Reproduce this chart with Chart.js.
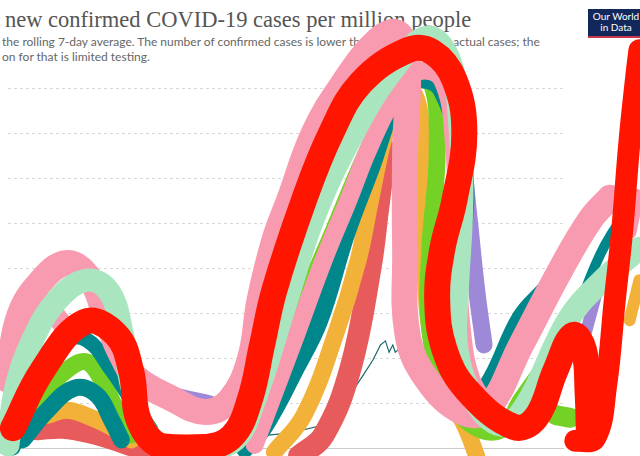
<!DOCTYPE html>
<html>
<head>
<meta charset="utf-8">
<script src="https://cdn.jsdelivr.net/npm/chart.js"></script>
<style>
  html, body { margin: 0; padding: 0; background: #fff; overflow: hidden; }
  #wrap { position: relative; width: 640px; height: 456px; }
  #title { position: absolute; left: 5px; top: 7px; font: 22.5px "Liberation Serif", serif; color: #555; white-space: nowrap; }
  .sub { position: absolute; left: 2px; font: 12px Lato, sans-serif; color: #666; white-space: nowrap; }
  #logo { position: absolute; left: 588px; top: 9px; width: 56px; height: 29px; background: #12285a; color: #fff;
          font: 10px Lato, sans-serif; line-height: 11px; text-align: center; padding-top: 2px; box-sizing: border-box;
          border-bottom: 2px solid #c8374a; }
  #chart { position: absolute; left: 0; top: 0; z-index: 2; }
</style>
</head>
<body>
<div id="wrap">
  <div id="title">new confirmed COVID-19 cases per million people</div>
  <div class="sub" style="top:34px">the rolling 7-day average. The number of confirmed cases is lower than the number of actual cases; the</div>
  <div class="sub" style="top:49px">on for that is limited testing.</div>
  <div id="logo">Our World<br>in Data</div>
  <canvas id="chart" width="640" height="456"></canvas>
</div>
<script>
// hand-drawn strokes over the chart: [day, cases per million]
const redMain = [[4,44],[28,173],[62,280],[88,251],[100,169],[106,62],[124,4],[160,2],[182,27],[196,107],[206,229],[216,351],
  [240,551],[262,700],[286,811],[324,884],[344,880],[362,818],[370,700],[362,551],[352,440],[348,329],[354,218],[372,129],
  [410,47],[428,67],[444,173],[458,251],[467,218],[470,120],[471,30]];
const redTall = [[460,16],[476,22],[485,140],[492,329],[498,484],[504,684],[510,840],[512,884]];
const redDots = [[458,18],[458,118]];
const mint = [[0,7],[6,129],[20,240],[40,329],[64,373],[82,347],[92,262],[100,140],[112,36],[132,0],[160,0],[184,18],
  [200,107],[226,329],[248,513],[280,700],[312,840],[340,913],[358,862],[366,729],[368,551],[364,329],[364,218],[378,107],
  [400,51],[420,96],[454,284],[480,367],[512,444]];
const pinkA = [[0,151],[8,284],[24,362],[48,411],[68,369],[80,284],[92,207],[104,156],[132,111],[160,80],[180,107],
  [196,196],[204,329],[216,462],[228,551],[248,700],[272,811],[300,907],[316,922],[324,862],[322,662],[322,440],
  [324,251],[340,151],[368,80],[388,84],[416,229],[448,396],[472,507],[488,556]];
const pinkB = [[30,324],[48,262]];
const pinkC = [[200,7],[232,240],[256,418],[276,551],[292,662],[312,773],[332,836],[352,818],[362,662],[364,440],
  [368,262],[376,151],[392,84]];
const pinkR = [[504,480],[510,560]];
const tealA = [[4,0],[16,84],[28,196],[44,240],[64,240],[84,173],[100,107],[116,40]];
const tealB = [[12,18],[32,84],[54,133],[72,118],[84,62],[92,18]];
const tealM = [[192,0],[208,51],[232,173],[252,284],[274,478],[294,624],[312,762],[328,818],[352,796],[370,596],
  [364,373],[368,218],[380,118],[392,151],[416,289],[436,351]];
const tealD = [[456,262],[480,429],[500,518],[512,551]];
const greenL = [[8,40],[28,118],[50,178],[64,191],[76,151],[88,84],[100,29]];
const greenM = [[196,18],[216,151],[240,329],[264,484],[288,640],[308,751],[324,807],[342,818],[348,662],[342,440],
  [342,262],[356,118],[376,51],[400,40],[416,107],[436,184]];
const greenBlob = [[444,73],[456,67]];
const orangeL = [[32,73],[48,84],[68,67],[88,40],[100,18]];
const orangeM = [[216,-9],[240,73],[266,256],[284,418],[294,551],[306,700],[318,773],[330,784],[336,662],[338,440],
  [342,262],[356,129],[372,40],[380,-18]];
const orangeR = [[504,284],[512,373]];
const salmonL = [[24,44],[44,47],[68,36],[92,16],[112,-4]];
const salmonM = [[236,-18],[256,29],[278,180],[294,402],[300,529],[306,662]];
const purpleL = [[112,140],[136,118],[164,100]];
const purpleR = [[368,662],[374,507],[380,351],[386,229]];
const purpleF = [[468,251],[480,373]];
const original = [[204,27],[228,33],[256,51],[268,84],[280,129],[288,162],[296,196],[302,229],[306,238],[309,213],
  [312,229],[314,213],[318,222]];
const yTicks = [0, 100, 200, 300, 400, 500, 600, 700, 800];

const RED = '#ff1500', PINK = '#f99bb0', MINT = '#a9e6bf', TEAL = '#00878b', GREEN = '#74d227',
      ORANGE = '#f2b23a', SALMON = '#e85b5c', PURPLE = '#9d89d8';

function pts(a) { return a.map(p => ({ x: p[0], y: p[1] })); }
function stroke(a, color, w) {
  return { data: pts(a), borderColor: color, backgroundColor: color, borderWidth: w, pointRadius: 0,
           tension: 0.4, borderCapStyle: 'round', borderJoinStyle: 'round', clip: false };
}

// first dataset is painted on top
const datasets = [
  stroke(redMain, RED, 26),
  stroke(redTall, RED, 22),
  { data: pts(redDots), showLine: false, pointRadius: 8, pointBackgroundColor: RED, pointBorderWidth: 0, clip: false },
  stroke(mint, MINT, 23),
  stroke(pinkA, PINK, 26),
  stroke(pinkB, PINK, 20),
  stroke(pinkC, PINK, 18),
  stroke(pinkR, PINK, 14),
  stroke(tealA, TEAL, 15),
  stroke(tealB, TEAL, 17),
  stroke(tealM, TEAL, 19),
  stroke(tealD, TEAL, 10),
  stroke(greenL, GREEN, 17),
  stroke(greenM, GREEN, 17),
  stroke(greenBlob, GREEN, 20),
  stroke(orangeL, ORANGE, 17),
  stroke(orangeM, ORANGE, 17),
  stroke(orangeR, ORANGE, 12),
  stroke(salmonL, SALMON, 24),
  stroke(salmonM, SALMON, 22),
  stroke(purpleL, PURPLE, 15),
  stroke(purpleR, PURPLE, 17),
  stroke(purpleF, PURPLE, 12),
  { data: pts(original), borderColor: '#1c6b6d', borderWidth: 1.2, pointRadius: 0, tension: 0, clip: false }
];

new Chart(document.getElementById('chart'), {
  type: 'line',
  data: { datasets },
  options: {
    responsive: false,
    animation: false,
    layout: { padding: { left: 0, top: 88, right: 77, bottom: 8 } },
    plugins: { legend: { display: false }, tooltip: { enabled: false } },
    scales: {
      x: {
        type: 'linear',
        // set range here so strokes running past the right edge are not trimmed
        afterDataLimits: s => { s.min = 0; s.max = 450; },
        afterFit: s => { s.height = 0; },
        ticks: { display: false },
        grid: { display: false, drawTicks: false },
        border: { display: true, color: '#ccc' }
      },
      y: {
        min: 0, max: 800,
        afterBuildTicks: s => { s.ticks = yTicks.map(v => ({ value: v })); },
        afterFit: s => { s.width = 0; },
        ticks: { display: false },
        grid: { color: '#d8d8d8', drawTicks: false },
        border: { display: false, dash: [3, 3] }
      }
    }
  }
});
</script>
</body>
</html>
